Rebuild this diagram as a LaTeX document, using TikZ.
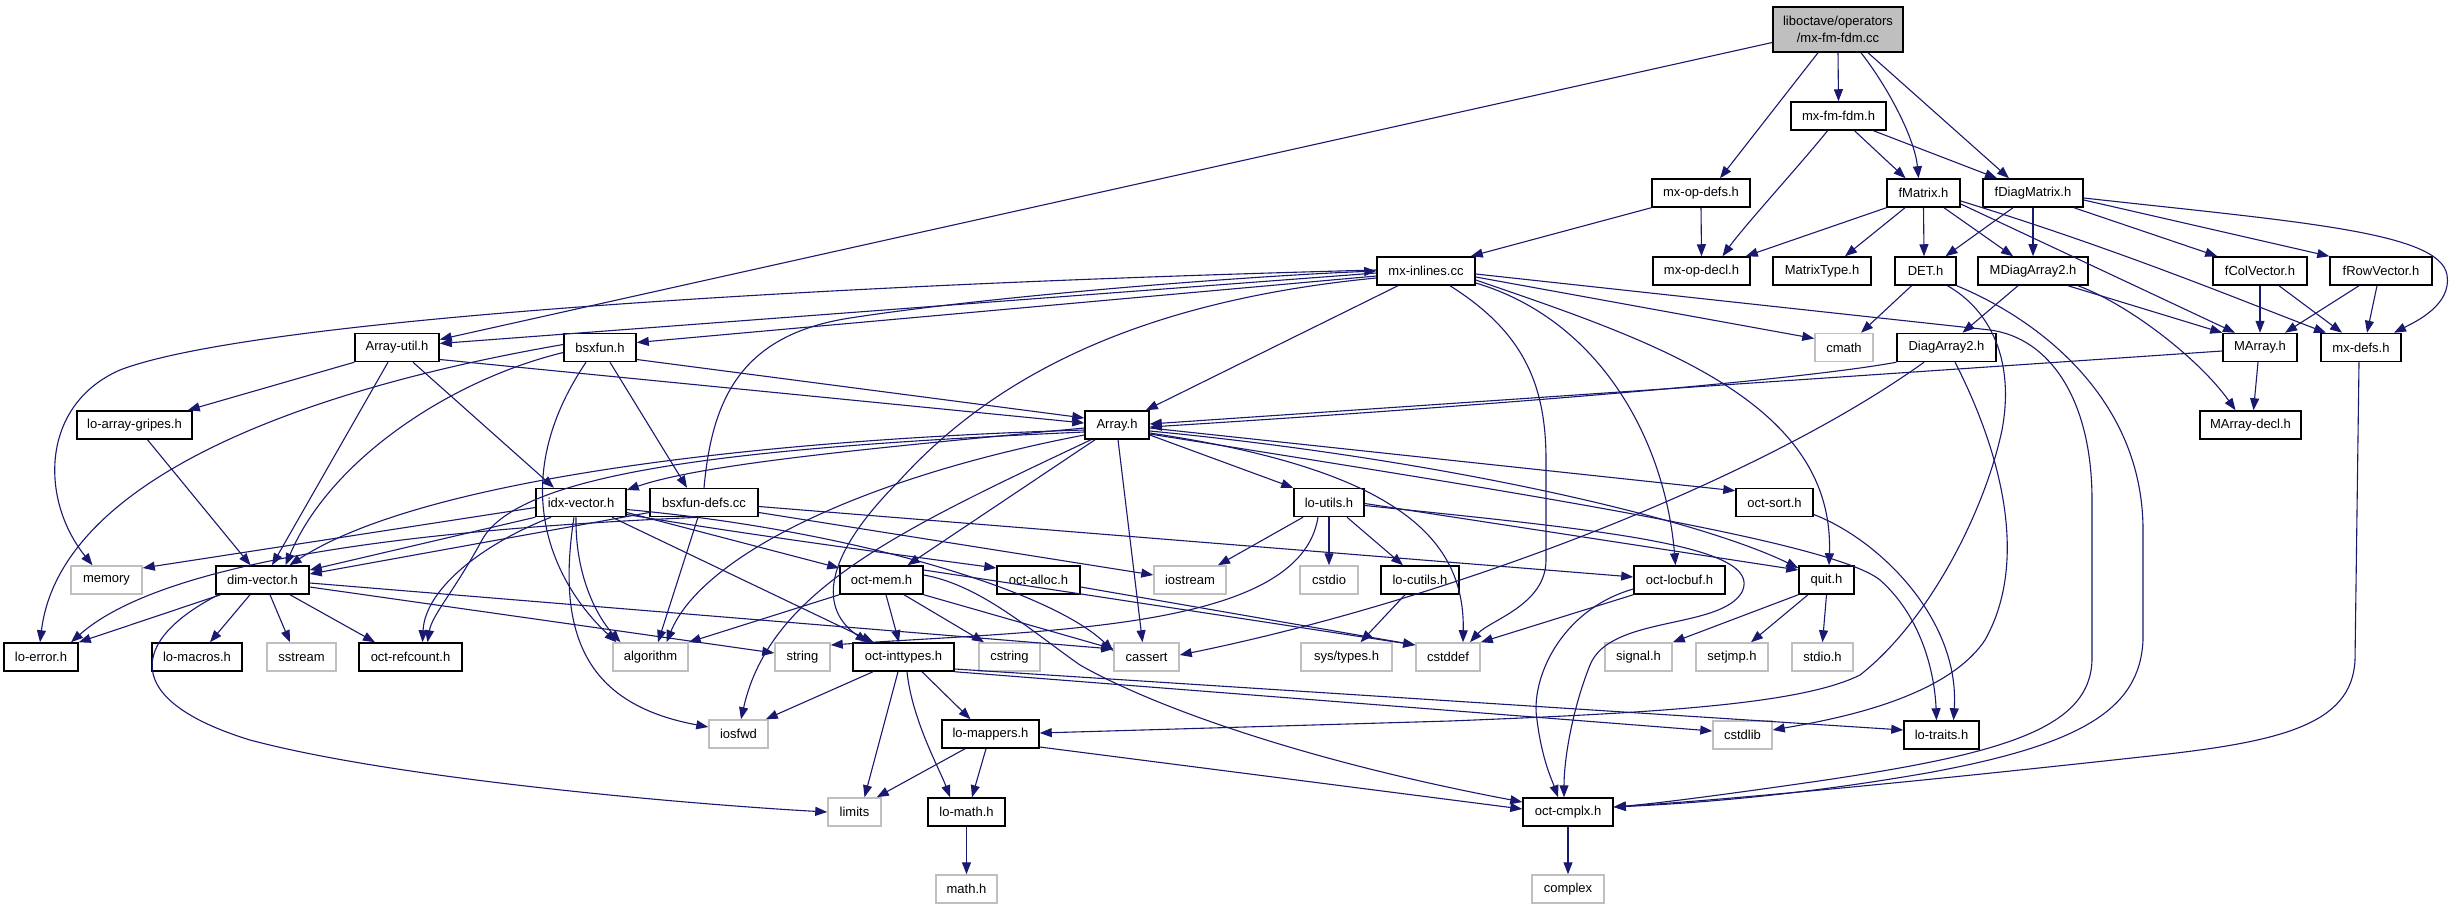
\documentclass[tikz,border=0pt]{standalone}
\usepackage{fontspec}
\setmainfont{Liberation Sans}
\usetikzlibrary{arrows.meta}
\definecolor{edgec}{HTML}{191970}
\definecolor{sysc}{HTML}{BFBFBF}
\newcommand\nfs{\fontsize{13}{17}\selectfont}
\begin{document}
\begin{tikzpicture}[x=1pt,y=-1pt,
  hdr/.style={draw=black, fill=white, line width=1.5pt, minimum height=28pt, inner sep=0pt, font=\nfs},
  sys/.style={draw=sysc, fill=white, line width=1.5pt, minimum height=28pt, inner sep=0pt, font=\nfs},
  rootn/.style={draw=black, fill=sysc, line width=1.5pt, inner sep=0pt, align=center, font=\nfs},
  e/.style={draw=edgec, line width=1.1pt, -{Triangle[length=12pt,width=9pt]}}]
\fill[white] (0,0) rectangle (2456,909);
\useasboundingbox (0,0) rectangle (2456,909);
% nodes
\node[rootn, minimum width=130, minimum height=45] (root) at (1838,29.5) {liboctave/operators\\/mx-fm-fdm.cc};
\node[hdr, minimum width=95] (mxfmfdmh) at (1838.5,116) {mx-fm-fdm.h};
\node[hdr, minimum width=98] (mxopdefs) at (1701,193) {mx-op-defs.h};
\node[hdr, minimum width=73] (fMatrix) at (1923.5,193) {fMatrix.h};
\node[hdr, minimum width=100] (fDiag) at (2033,193) {fDiagMatrix.h};
\node[hdr, minimum width=98] (mxinl) at (1426,271) {mx-inlines.cc};
\node[hdr, minimum width=97] (mxopdecl) at (1701.5,271) {mx-op-decl.h};
\node[hdr, minimum width=98] (MatrixType) at (1822,271) {MatrixType.h};
\node[hdr, minimum width=61] (DET) at (1925.5,271) {DET.h};
\node[hdr, minimum width=110] (MDiag2) at (2033,271) {MDiagArray2.h};
\node[hdr, minimum width=94] (fColVec) at (2260,271) {fColVector.h};
\node[hdr, minimum width=102] (fRowVec) at (2381,271) {fRowVector.h};
\node[hdr, minimum width=84] (ArrayUtil) at (397,347.5) {Array-util.h};
\node[hdr, minimum width=72] (bsxfun) at (600,347.5) {bsxfun.h};
\node[sys, minimum width=58] (cmath) at (1844,347.5) {cmath};
\node[hdr, minimum width=99] (DiagArray2) at (1946.5,347.5) {DiagArray2.h};
\node[hdr, minimum width=74] (MArray) at (2260,347.5) {MArray.h};
\node[hdr, minimum width=80] (mxdefs) at (2361,347.5) {mx-defs.h};
\node[hdr, minimum width=115] (lagripes) at (134.5,425) {lo-array-gripes.h};
\node[hdr, minimum width=64] (Array) at (1117,425) {Array.h};
\node[hdr, minimum width=101] (MArraydecl) at (2250.5,425) {MArray-decl.h};
\node[hdr, minimum width=90] (idxvec) at (581,502.5) {idx-vector.h};
\node[hdr, minimum width=108] (bsxdefs) at (704,502.5) {bsxfun-defs.cc};
\node[hdr, minimum width=70] (loutils) at (1329,502.5) {lo-utils.h};
\node[hdr, minimum width=77] (octsort) at (1774.5,502.5) {oct-sort.h};
\node[sys, minimum width=71] (memory) at (106.5,580) {memory};
\node[hdr, minimum width=93] (dimvec) at (262.5,580) {dim-vector.h};
\node[hdr, minimum width=83] (octmem) at (881.5,580) {oct-mem.h};
\node[hdr, minimum width=83] (octalloc) at (1038.5,580) {oct-alloc.h};
\node[sys, minimum width=72] (iostream) at (1190,580) {iostream};
\node[sys, minimum width=58] (cstdio) at (1329,580) {cstdio};
\node[hdr, minimum width=78] (locutils) at (1420,580) {lo-cutils.h};
\node[hdr, minimum width=91] (octlocbuf) at (1679.5,580) {oct-locbuf.h};
\node[hdr, minimum width=55] (quit) at (1826.5,580) {quit.h};
\node[hdr, minimum width=74] (loerror) at (41,657) {lo-error.h};
\node[hdr, minimum width=90] (lomacros) at (197,657) {lo-macros.h};
\node[sys, minimum width=69] (sstream) at (301.5,657) {sstream};
\node[hdr, minimum width=103] (octrefcount) at (410.5,657) {oct-refcount.h};
\node[sys, minimum width=75] (algorithm) at (650.5,657) {algorithm};
\node[sys, minimum width=55] (string) at (802.5,657) {string};
\node[hdr, minimum width=101] (octint) at (903.5,657) {oct-inttypes.h};
\node[sys, minimum width=61] (cstring) at (1009.5,657) {cstring};
\node[sys, minimum width=65] (cassert) at (1146.5,657) {cassert};
\node[sys, minimum width=91] (systypes) at (1346.5,657) {sys/types.h};
\node[sys, minimum width=64] (cstddef) at (1448,657) {cstddef};
\node[sys, minimum width=67] (signal) at (1638.5,657) {signal.h};
\node[sys, minimum width=72] (setjmp) at (1732,657) {setjmp.h};
\node[sys, minimum width=61] (stdio) at (1822.5,657) {stdio.h};
\node[sys, minimum width=59] (iosfwd) at (738.5,734) {iosfwd};
\node[hdr, minimum width=97] (lomappers) at (990.5,734) {lo-mappers.h};
\node[sys, minimum width=59] (cstdlib) at (1742.5,735) {cstdlib};
\node[hdr, minimum width=75] (lotraits) at (1941.5,735) {lo-traits.h};
\node[sys, minimum width=53] (limits) at (854.5,812) {limits};
\node[hdr, minimum width=77] (lomath) at (966.5,812) {lo-math.h};
\node[hdr, minimum width=90] (octcmplx) at (1568,812) {oct-cmplx.h};
\node[sys, minimum width=61] (mathh) at (966.5,889) {math.h};
\node[sys, minimum width=72] (complex) at (1568,889) {complex};
% root
\draw[e] (root.south) -- (mxfmfdmh.north);
\draw[e] ([xshift=-20]root.south) -- ([xshift=19]mxopdefs.north);
\draw[e] ([xshift=23]root.south) .. controls (1890,90) and (1915,140) .. ([xshift=-5]fMatrix.north);
\draw[e] ([xshift=30]root.south) -- ([xshift=-24]fDiag.north);
\draw[e] ([yshift=-13]root.west) -- ([yshift=8]ArrayUtil.east);
% mx-fm-fdm.h
\draw[e] ([xshift=-11]mxfmfdmh.south) .. controls (1800,165) and (1745,225) .. ([xshift=21]mxopdecl.north);
\draw[e] ([xshift=16]mxfmfdmh.south) -- ([xshift=-18]fMatrix.north);
\draw[e] ([xshift=35]mxfmfdmh.south) -- ([xshift=-36]fDiag.north);
% mx-op-defs.h
\draw[e] (mxopdefs.south) -- (mxopdecl.north);
\draw[e] (mxopdefs.south west) -- ([xshift=-5]mxinl.north east);
% fMatrix.h
\draw[e] (fMatrix.south west) -- ([xshift=-5]mxopdecl.north east);
\draw[e] ([xshift=-18.5]fMatrix.south) -- ([xshift=23]MatrixType.north);
\draw[e] (fMatrix.south) -- ([xshift=-1.5]DET.north);
\draw[e] ([xshift=20.5]fMatrix.south) -- ([xshift=-20]MDiag2.north);
\draw[e] ([yshift=-11]fMatrix.east) -- ([xshift=-25]MArray.north);
\draw[e] ([yshift=-8]fMatrix.east) .. controls (2120,250) and (2240,300) .. ([xshift=-35]mxdefs.north);
% fDiagMatrix.h
\draw[e] ([xshift=-20]fDiag.south) -- ([xshift=20]DET.north);
\draw[e] (fDiag.south) -- (MDiag2.north);
\draw[e] ([xshift=41]fDiag.south) -- ([xshift=5]fColVec.north west);
\draw[e] ([yshift=-7]fDiag.east) -- (fRowVec.north west);
\draw[e] ([yshift=-5]fDiag.east) .. controls (2300,222) and (2440,232) .. (2447,275) .. controls (2452,305) and (2415,322) .. ([xshift=33]mxdefs.north);
% MDiagArray2.h
\draw[e] ([xshift=-15]MDiag2.south) -- ([xshift=16]DiagArray2.north);
\draw[e] ([xshift=35]MDiag2.south) -- (MArray.north west);
\draw[e] ([xshift=45]MDiag2.south) .. controls (2130,305) and (2200,360) .. ([xshift=-15]MArraydecl.north);
% fColVector.h, fRowVector.h
\draw[e] (fColVec.south) -- (MArray.north);
\draw[e] ([xshift=19]fColVec.south) -- ([xshift=-19]mxdefs.north);
\draw[e] ([xshift=-22]fRowVec.south) -- ([xshift=25]MArray.north);
\draw[e] ([xshift=-4]fRowVec.south) -- ([xshift=6]mxdefs.north);
% MArray.h
\draw[e] ([yshift=-3.5]MArray.west) -- ([yshift=1]Array.east);
\draw[e] ([xshift=-2]MArray.south) -- ([xshift=3]MArraydecl.north);
% DiagArray2.h
\draw[e] (DiagArray2.south west) .. controls (1800,380) and (1500,405) .. ([yshift=-2]Array.east);
\draw[e] ([xshift=-22.5]DiagArray2.south) .. controls (1760,480) and (1450,600) .. ([yshift=2]cassert.east);
\draw[e] ([xshift=8.5]DiagArray2.south) .. controls (2000,450) and (2030,560) .. (1985,640) .. controls (1945,700) and (1830,720) .. ([yshift=5]cstdlib.east);
% DET.h
\draw[e] ([xshift=-14]DET.south) -- ([xshift=17]cmath.north);
\draw[e] (DET.south east) .. controls (2040,320) and (2143,400) .. (2143,530) -- (2143,640) .. controls (2140,710) and (2080,745) .. (1927,773) .. controls (1800,795) and (1700,803) .. ([yshift=5]octcmplx.east);
\draw[e] ([xshift=22]DET.south) .. controls (1990,310) and (2015,360) .. (2002,430) .. controls (1985,510) and (1930,620) .. (1860,675) .. controls (1800,705) and (1650,713) .. (1450,721) -- ([yshift=1]lomappers.east);
% mx-defs.h
\draw[e] ([xshift=-2]mxdefs.south) -- (2355,660) .. controls (2352,725) and (2280,742) .. (2150,756) .. controls (1950,778) and (1750,798) .. ([yshift=5]octcmplx.east);
% mx-inlines.cc
\draw[e] ([xshift=-28]mxinl.south) -- ([xshift=-4]Array.north east);
\draw[e] ([xshift=24]mxinl.south) .. controls (1520,330) and (1546,380) .. (1546,460) -- (1546,560) .. controls (1546,605) and (1490,620) .. ([xshift=22]cstddef.north);
\draw[e] ([yshift=-12]mxinl.east) .. controls (1600,320) and (1665,440) .. ([xshift=-4]octlocbuf.north);
\draw[e] ([yshift=-9]mxinl.east) .. controls (1650,340) and (1835,400) .. ([xshift=2.5]quit.north);
\draw[e] ([yshift=-6]mxinl.east) -- ([yshift=9]cmath.west);
\draw[e] ([yshift=-3]mxinl.east) -- (1990,330) .. controls (2050,338) and (2092,400) .. (2092,500) -- (2092,660) .. controls (2090,730) and (2000,755) .. (1805,783) .. controls (1700,798) and (1650,804) .. ([yshift=5]octcmplx.east);
\draw[e] ([yshift=-2]mxinl.west) -- ([yshift=4]ArrayUtil.east);
\draw[e] ([yshift=-5]mxinl.west) -- ([yshift=5]bsxfun.east);
\draw[e] ([yshift=1]mxinl.west) .. controls (800,285) and (250,320) .. (120,370) .. controls (40,405) and (40,500) .. ([xshift=-14]memory.north);
\draw[e] ([yshift=-7]mxinl.west) .. controls (1150,300) and (1000,370) .. (900,480) .. controls (820,560) and (820,610) .. ([xshift=-36]octint.north);
% bsxfun-defs.cc
\draw[e] (bsxdefs.north) .. controls (712,400) and (740,335) .. (850,318) .. controls (1000,295) and (1250,276) .. (mxinl.west);
\draw[e] ([xshift=-6]bsxdefs.south) -- ([xshift=7.5]algorithm.north);
\draw[e] ([yshift=-10]bsxdefs.east) -- ([yshift=5]iostream.west);
\draw[e] ([yshift=-4]bsxdefs.east) -- ([yshift=3]octlocbuf.west);
\draw[e] ([yshift=-10]bsxdefs.west) -- ([yshift=6]dimvec.east);
\draw[e] ([xshift=-4]bsxdefs.south) .. controls (450,528) and (170,555) .. ([xshift=30]loerror.north);
% bsxfun.h
\draw[e] ([yshift=-12]bsxfun.east) -- ([yshift=7]Array.west);
\draw[e] ([xshift=-14]bsxfun.south) .. controls (500,490) and (560,590) .. ([xshift=-34]algorithm.north);
\draw[e] ([xshift=10]bsxfun.south) -- ([xshift=-17]bsxdefs.north);
\draw[e] ([yshift=-5]bsxfun.west) .. controls (450,380) and (330,460) .. ([xshift=23]dimvec.north);
\draw[e] ([yshift=3]bsxfun.west) .. controls (300,390) and (60,480) .. ([xshift=-1]loerror.north);
% Array-util.h
\draw[e] (ArrayUtil.south west) -- ([xshift=-5]lagripes.north east);
\draw[e] ([xshift=-9]ArrayUtil.south) -- ([xshift=9.5]dimvec.north);
\draw[e] ([xshift=16]ArrayUtil.south) -- ([xshift=-27]idxvec.north);
\draw[e] ([yshift=-12]ArrayUtil.east) -- ([yshift=2]Array.west);
% lo-array-gripes.h
\draw[e] ([xshift=13]lagripes.south) -- ([xshift=-12]dimvec.north);
% Array.h
\draw[e] ([yshift=-5]Array.west) .. controls (750,440) and (420,480) .. ([xshift=27]dimvec.north);
\draw[e] ([yshift=-7]Array.west) .. controls (750,447) and (520,470) .. (482,540) .. controls (455,590) and (432,615) .. ([xshift=17]octrefcount.north);
\draw[e] ([yshift=-3]Array.west) .. controls (850,450) and (700,465) .. ([yshift=12.5]idxvec.east);
\draw[e] ([yshift=-10]Array.west) .. controls (850,480) and (700,560) .. ([xshift=16]algorithm.north);
\draw[e] ([xshift=-22]Array.south) -- ([xshift=26]octmem.north);
\draw[e] ([xshift=1]Array.south) -- ([xshift=-4]cassert.north);
\draw[e] ([xshift=-26]Array.south) .. controls (900,530) and (770,590) .. ([xshift=2.5]iosfwd.north);
\draw[e] ([yshift=-10]Array.east) -- (loutils.north west);
\draw[e] ([yshift=-3]Array.east) -- ([yshift=-3]octsort.north west);
\draw[e] ([yshift=-6]Array.east) .. controls (1450,460) and (1700,520) .. ([yshift=12]quit.west);
\draw[e] ([yshift=-8]Array.east) .. controls (1400,470) and (1465,540) .. ([xshift=15]cstddef.north);
\draw[e] ([yshift=-9]Array.east) .. controls (1500,490) and (1830,540) .. (1880,580) .. controls (1925,620) and (1935,680) .. ([xshift=-5]lotraits.north);
% idx-vector.h
\draw[e] ([yshift=-5]idxvec.west) -- ([yshift=12]memory.east);
\draw[e] (idxvec.south west) -- ([yshift=10]dimvec.east);
\draw[e] ([xshift=-30]idxvec.south) .. controls (480,545) and (425,590) .. ([xshift=12]octrefcount.north);
\draw[e] ([xshift=-5]idxvec.south) .. controls (575,580) and (600,620) .. ([xshift=-30]algorithm.north);
\draw[e] ([xshift=-7]idxvec.south) .. controls (555,640) and (590,705) .. ([yshift=7]iosfwd.west);
\draw[e] ([xshift=31]idxvec.south) -- ([xshift=-30]octint.north);
\draw[e] ([yshift=-10]idxvec.east) -- ([yshift=12]octmem.west);
\draw[e] ([yshift=-12]idxvec.east) .. controls (750,535) and (900,555) .. ([yshift=12]octalloc.west);
\draw[e] ([yshift=-7]idxvec.east) .. controls (850,530) and (1050,590) .. ([yshift=6]cassert.west);
% dim-vector.h
\draw[e] ([xshift=-42]dimvec.south) -- (loerror.north east);
\draw[e] ([xshift=-12.5]dimvec.south) -- ([xshift=13]lomacros.north);
\draw[e] ([xshift=7.5]dimvec.south) -- ([xshift=-11.5]sstream.north);
\draw[e] ([xshift=27.5]dimvec.south) -- ([xshift=-35.5]octrefcount.north);
\draw[e] ([yshift=-3]dimvec.east) -- ([yshift=8]cassert.west);
\draw[e] ([yshift=-7]dimvec.east) -- ([yshift=4]string.west);
\draw[e] ([xshift=-44]dimvec.south) .. controls (130,640) and (120,700) .. (250,740) .. controls (400,780) and (700,805) .. (limits.west);
% oct-mem.h
\draw[e] (octmem.south west) -- (algorithm.north east);
\draw[e] ([xshift=4.5]octmem.south) -- ([xshift=-4.5]octint.north);
\draw[e] ([xshift=22.5]octmem.south) -- ([xshift=-25.5]cstring.north);
\draw[e] (octmem.south east) -- ([yshift=8]cassert.west);
\draw[e] ([yshift=10]octmem.east) -- ([yshift=12]cstddef.west);
\draw[e] ([yshift=5]octmem.east) .. controls (980,585) and (1030,630) .. (1080,665) .. controls (1150,705) and (1300,760) .. ([yshift=10]octcmplx.west);
% oct-alloc.h
\draw[e] ([yshift=-7]octalloc.east) -- ([yshift=12]cstddef.west);
% lo-utils.h
\draw[e] ([xshift=-26]loutils.south) -- ([xshift=28]iostream.north);
\draw[e] (loutils.south) -- (cstdio.north);
\draw[e] ([xshift=18]loutils.south) -- ([xshift=-17]locutils.north);
\draw[e] ([xshift=-11]loutils.south) .. controls (1300,630) and (1050,630) .. ([yshift=12]string.east);
\draw[e] ([yshift=-1]loutils.east) -- ([yshift=10]quit.west);
\draw[e] ([yshift=-3]loutils.east) .. controls (1600,530) and (1765,545) .. (1742,592) .. controls (1720,630) and (1610,615) .. (1590,665) .. controls (1572,710) and (1564,760) .. ([xshift=-4]octcmplx.north);
% lo-cutils.h
\draw[e] ([xshift=-15]locutils.south) -- ([xshift=14]systypes.north);
% oct-locbuf.h
\draw[e] (octlocbuf.south west) -- (cstddef.north east);
\draw[e] ([yshift=-9]octlocbuf.west) .. controls (1560,610) and (1530,680) .. (1537,720) .. controls (1542,760) and (1552,780) .. ([xshift=-10]octcmplx.north);
% quit.h
\draw[e] (quit.south west) -- (signal.north east);
\draw[e] ([xshift=-18.5]quit.south) -- ([xshift=19]setjmp.north);
\draw[e] (quit.south) -- (stdio.north);
% oct-sort.h
\draw[e] ([yshift=-12]octsort.east) .. controls (1880,540) and (1960,620) .. ([xshift=12]lotraits.north);
% oct-inttypes.h
\draw[e] ([xshift=-30.5]octint.south) -- ([xshift=-3]iosfwd.north east);
\draw[e] ([xshift=-5.5]octint.south) -- ([xshift=10]limits.north);
\draw[e] ([xshift=3.5]octint.south) .. controls (912,720) and (940,770) .. ([xshift=-16.5]lomath.north);
\draw[e] ([xshift=18.5]octint.south) -- ([xshift=-20]lomappers.north);
\draw[e] (octint.south east) -- ([yshift=4]cstdlib.west);
\draw[e] ([yshift=-12]octint.east) -- ([yshift=5]lotraits.west);
% lo-mappers.h
\draw[e] ([xshift=-25.5]lomappers.south) -- ([xshift=-5]limits.north east);
\draw[e] ([xshift=-4.5]lomappers.south) -- ([xshift=5.5]lomath.north);
\draw[e] ([yshift=-13]lomappers.east) -- ([yshift=3]octcmplx.west);
% leaves
\draw[e] (lomath.south) -- (mathh.north);
\draw[e] (octcmplx.south) -- (complex.north);
\end{tikzpicture}
\end{document}
